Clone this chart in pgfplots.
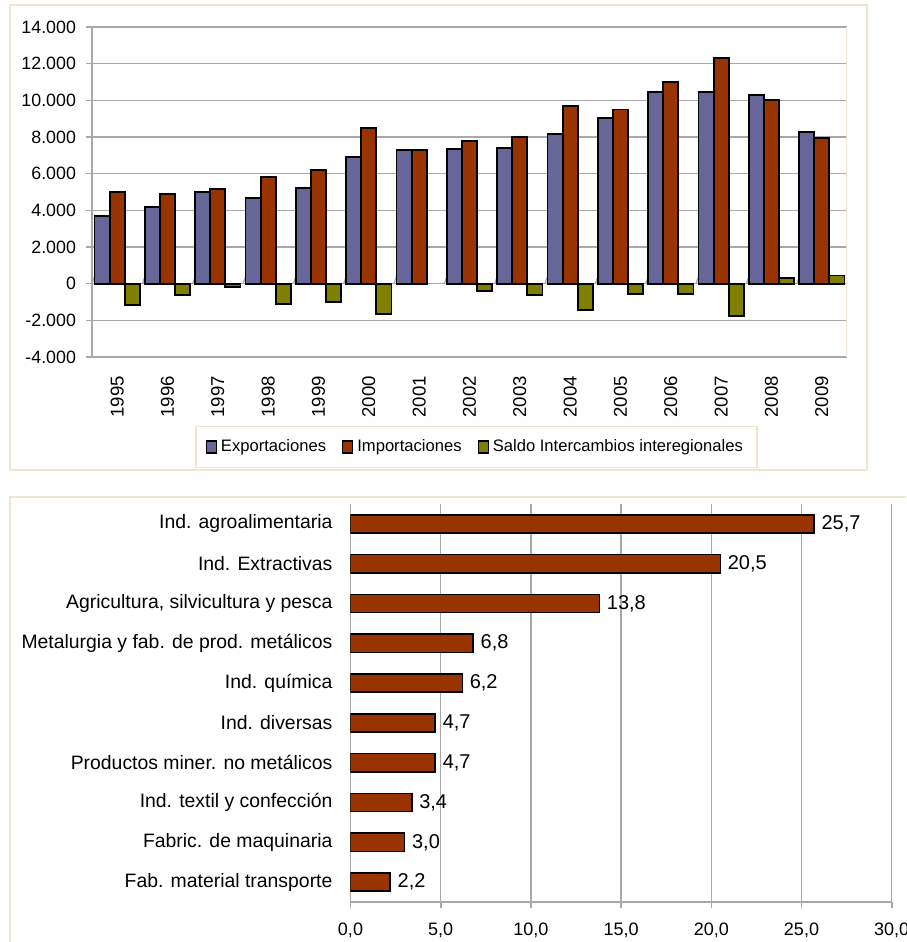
\documentclass[border=0pt]{standalone}
\usepackage{pgfplots}
\pgfplotsset{compat=1.18}
\usepackage{fontspec}
\setmainfont{Liberation Sans}
\definecolor{cexp}{HTML}{666699}
\definecolor{cimp}{HTML}{993300}
\definecolor{csal}{HTML}{808000}
\definecolor{framec}{HTML}{EFE6D2}
\definecolor{gridc}{HTML}{A8A8A8}
\begin{document}
\begin{tikzpicture}
\path[use as bounding box] (0,0) rectangle (453pt,471pt);
\fill[white] (0,0) rectangle (453pt,471pt);
\draw[framec, line width=0.8pt] (5pt,236pt) rectangle (433.5pt,468.5pt);
\draw[framec, line width=0.8pt] (5pt,0) -- (5pt,222.5pt) -- (453pt,222.5pt);

\begin{axis}[
  at={(46pt,292.5pt)}, anchor=south west, scale only axis,
  width=377.5pt, height=165pt,
  xmin=-0.5, xmax=14.5, ymin=-4000, ymax=14000,
  xtick={0,...,14},
  xticklabels={1995,1996,1997,1998,1999,2000,2001,2002,2003,2004,2005,2006,2007,2008,2009},
  ytick={-4000,-2000,...,14000},
  scaled y ticks=false,
  axis x line*=bottom, axis y line*=left,
  x axis line style={draw=none},
  y axis line style={draw=gridc, line width=0.8pt},
  xtick style={draw=none},
  ytick style={draw=gridc, line width=0.8pt},
  tick align=outside, major tick length=3pt,
  ymajorgrids, grid style={gridc, line width=0.8pt},
  yticklabel style={font=\fontsize{8.9}{10}\selectfont,
    /pgf/number format/fixed, /pgf/number format/1000 sep={.},
    /pgf/number format/assume math mode=true},
  xticklabel style={font=\fontsize{9.3}{10}\selectfont, rotate=90, anchor=east},
  xticklabel shift=3pt,
  yticklabel shift=1.5pt,
  legend columns=3,
  legend style={at={(0.509,-0.273)}, anchor=center, draw=framec, line width=0.8pt,
    font=\fontsize{8.3}{10}\selectfont, inner xsep=5pt, inner ysep=4.5pt,
    /tikz/every even column/.append style={column sep=6pt}},
  legend image code/.code={\draw[#1, line width=0.6pt] (0pt,-3pt) rectangle (5pt,3pt);},
]
\draw[gridc, line width=0.8pt] (axis cs:-0.5,0) -- (axis cs:14.5,0);
\pgfplotsinvokeforeach{-0.5,0.5,...,14.5}{\draw[gridc, line width=0.6pt] (axis cs:#1,0) -- ++(0,-2pt);}
\draw[framec, line width=0.8pt] (rel axis cs:1,0) -- (rel axis cs:1,1);
\addplot[ybar, bar width=0.3, bar shift=-0.3, fill=cexp, draw=black, line width=0.9pt]
  coordinates {(0,3670) (1,4180) (2,5000) (3,4670) (4,5220) (5,6900) (6,7300) (7,7360)
               (8,7400) (9,8180) (10,9040) (11,10450) (12,10450) (13,10270) (14,8270)};
\addplot[ybar, bar width=0.3, bar shift=0, fill=cimp, draw=black, line width=0.9pt]
  coordinates {(0,5000) (1,4900) (2,5150) (3,5820) (4,6220) (5,8500) (6,7300) (7,7780)
               (8,8000) (9,9670) (10,9500) (11,11000) (12,12300) (13,10000) (14,7960)};
\addplot[ybar, bar width=0.3, bar shift=0.3, fill=csal, draw=black, line width=0.9pt]
  coordinates {(0,-1180) (1,-640) (2,-180) (3,-1100) (4,-1000) (5,-1640) (7,-420)
               (8,-640) (9,-1450) (10,-550) (11,-550) (12,-1780) (13,330) (14,440)};
\legend{Exportaciones,Importaciones,Saldo Intercambios interegionales}
\end{axis}

\begin{axis}[
  at={(175.25pt,20pt)}, anchor=south west, scale only axis,
  width=270.6pt, height=199pt,
  xbar, bar width=0.455,
  xmin=0, xmax=30, ymin=-0.5, ymax=9.5, y dir=reverse,
  xtick={0,5,...,30}, ytick={0,...,9},
  yticklabels={Ind. agroalimentaria, Ind. Extractivas, {Agricultura, silvicultura y pesca},
    Metalurgia y fab. de prod. metálicos, Ind. química, Ind. diversas,
    Productos miner. no metálicos, Ind. textil y confección, Fabric. de maquinaria,
    Fab. material transporte},
  axis x line*=bottom, axis y line*=left,
  y axis line style={draw=none}, ytick style={draw=none},
  x axis line style={draw=gridc, line width=0.8pt},
  xtick style={draw=gridc, line width=0.8pt},
  tick align=outside, major tick length=3pt,
  xmajorgrids, grid style={gridc, line width=0.7pt},
  /pgf/number format/fixed, /pgf/number format/zerofill,
  /pgf/number format/precision=1, /pgf/number format/use comma,
  /pgf/number format/assume math mode=true,
  xticklabel style={font=\fontsize{9}{10}\selectfont},
  yticklabel style={font=\fontsize{9.7}{12}\selectfont},
  xticklabel shift=4pt,
  yticklabel shift=2.5pt,
  nodes near coords, nodes near coords align={horizontal},
  every node near coord/.append style={font=\fontsize{10}{12}\selectfont, black},
]
\addplot[fill=cimp, draw=black, line width=0.8pt]
  coordinates {(25.7,0) (20.5,1) (13.8,2) (6.8,3) (6.2,4) (4.7,5) (4.7,6) (3.4,7) (3.0,8) (2.2,9)};
\end{axis}
\end{tikzpicture}
\end{document}
